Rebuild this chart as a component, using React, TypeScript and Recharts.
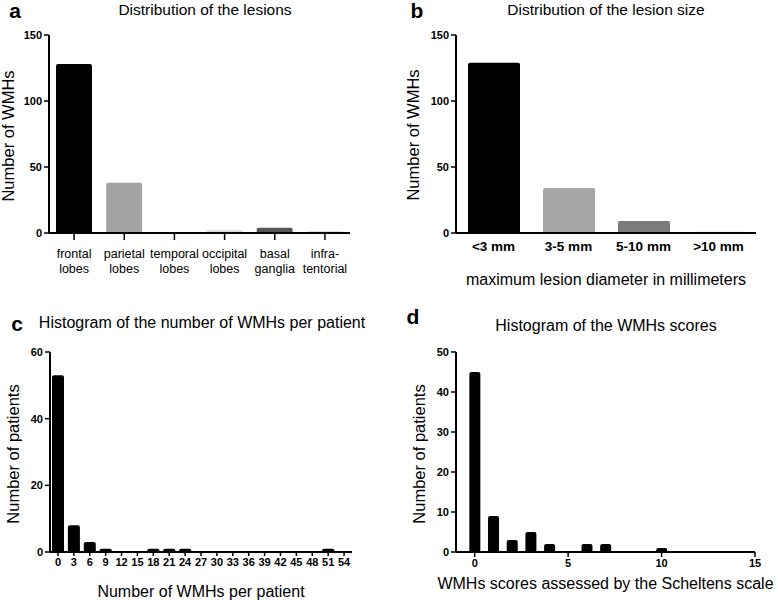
import React from "react";
import { Bar, BarChart, Cell, Label, XAxis, YAxis } from "recharts";

// panel a: lesion location
const locations = ["frontal lobes", "parietal lobes", "temporal lobes", "occipital lobes", "basal ganglia", "infra-tentorial"];
const locationCounts = [128, 38, 0, 2, 4, 1];
const locationColors = ["#000000", "#a3a3a3", "#bdbdbd", "#d9d9d9", "#555555", "#8a8a8a"];

// panel b: lesion size
const sizeClasses = ["<3 mm", "3-5 mm", "5-10 mm", ">10 mm"];
const sizeCounts = [129, 34, 9, 1];
const sizeColors = ["#000000", "#a6a6a6", "#7a7a7a", "#d6d6d6"];

// panel c: WMHs per patient (bins of 3)
const wmhBins = ["0", "3", "6", "9", "12", "15", "18", "21", "24", "27", "30", "33", "36", "39", "42", "45", "48", "51", "54"];
const wmhPatients = [53, 8, 3, 1, 0, 0, 1, 1, 1, 0, 0, 0, 0, 0, 0, 0, 0, 1, 0];

// panel d: Scheltens scores
const scores = [0, 1, 2, 3, 4, 5, 6, 7, 8, 9, 10];
const scorePatients = [45, 9, 3, 5, 2, 0, 2, 2, 0, 0, 1];

const FONT = '"Liberation Sans", Arial, Helvetica, sans-serif';

const locationData = locations.map((name, i) => ({ name, value: locationCounts[i] }));
const sizeData = sizeClasses.map((name, i) => ({ name, value: sizeCounts[i] }));
const wmhData = wmhBins.map((name, i) => ({ name, value: wmhPatients[i] }));
const scoreData = scores.map((score, i) => ({ score, value: scorePatients[i] }));

const axisLine = { stroke: "#000", strokeWidth: 2 };
const tickLine = { stroke: "#000", strokeWidth: 1.5 };
const yTick = { fill: "#000", fontSize: 11, fontWeight: 700, fontFamily: FONT };

const xTitle = (text: string, dy: number) => (props: any) => {
  const vb = props.viewBox;
  return (
    <text
      x={vb.x + vb.width / 2}
      y={vb.y + dy}
      textAnchor="middle"
      dominantBaseline="central"
      fontSize={16}
      fontFamily={FONT}
      fill="#000"
    >
      {text}
    </text>
  );
};

function splitLabel(name: string) {
  if (name.includes(" ")) return name.split(" ");
  const k = name.indexOf("-");
  return [name.slice(0, k + 1), name.slice(k + 1)];
}

function LocationTick(props: any) {
  const { x, y, payload } = props;
  const lines = splitLabel(payload.value);
  return (
    <text x={x} y={y} textAnchor="middle" fontSize={12.5} fontFamily={FONT} fill="#000">
      {lines.map((l, i) => (
        <tspan key={i} x={x} dy={i === 0 ? 16 : 15}>
          {l}
        </tspan>
      ))}
    </text>
  );
}

function Text({ left, top, size, bold, rotate, children }: any) {
  return (
    <div
      style={{
        position: "absolute",
        left,
        top,
        transform: `translate(-50%, -50%)${rotate ? " rotate(-90deg)" : ""}`,
        whiteSpace: "nowrap",
        fontSize: size,
        fontWeight: bold ? 700 : 400,
        fontFamily: FONT,
        color: "#000",
        lineHeight: 1,
      }}
    >
      {children}
    </div>
  );
}

export default function App() {
  return (
    <div style={{ position: "absolute", left: 0, top: 0, width: 778, height: 600, background: "#fff", overflow: "hidden" }}>
      <div style={{ position: "absolute", left: 0, top: 0 }}>
        <BarChart width={389} height={300} data={locationData} margin={{ top: 35, right: 39, bottom: 0, left: 0 }}>
          <YAxis
            width={49}
            domain={[0, 150]}
            ticks={[0, 50, 100, 150]}
            axisLine={axisLine}
            tickLine={tickLine}
            tickSize={5}
            tick={yTick}
          />
          <XAxis
            dataKey="name"
            height={67}
            axisLine={axisLine}
            tickLine={tickLine}
            tickSize={7}
            interval={0}
            tick={<LocationTick />}
          />
          <Bar dataKey="value" barSize={36} radius={[2, 2, 0, 0]} isAnimationActive={false}>
            {locationData.map((d, i) => (
              <Cell key={d.name} fill={locationColors[i]} />
            ))}
          </Bar>
        </BarChart>
      </div>

      <div style={{ position: "absolute", left: 389, top: 0 }}>
        <BarChart width={389} height={300} data={sizeData} margin={{ top: 35, right: 22, bottom: 0, left: 0 }}>
          <YAxis
            width={67}
            domain={[0, 150]}
            ticks={[0, 50, 100, 150]}
            axisLine={axisLine}
            tickLine={tickLine}
            tickSize={5}
            tick={yTick}
          />
          <XAxis
            dataKey="name"
            height={67}
            axisLine={axisLine}
            tickLine={false}
            tickSize={6}
            interval={0}
            tick={{ fill: "#000", fontSize: 13.5, fontWeight: 700, fontFamily: FONT }}
          >
            <Label content={xTitle("maximum lesion diameter in millimeters", 46)} />
          </XAxis>
          <Bar dataKey="value" barSize={52} radius={[2, 2, 0, 0]} isAnimationActive={false}>
            {sizeData.map((d, i) => (
              <Cell key={d.name} fill={sizeColors[i]} />
            ))}
          </Bar>
        </BarChart>
      </div>

      <div style={{ position: "absolute", left: 0, top: 300 }}>
        <BarChart width={389} height={300} data={wmhData} margin={{ top: 52, right: 37, bottom: 0, left: 0 }}>
          <YAxis
            width={50}
            domain={[0, 60]}
            ticks={[0, 20, 40, 60]}
            axisLine={axisLine}
            tickLine={tickLine}
            tickSize={5}
            tick={yTick}
          />
          <XAxis
            dataKey="name"
            height={48}
            axisLine={axisLine}
            tickLine={tickLine}
            tickSize={4}
            interval={0}
            tick={{ fill: "#000", fontSize: 11, fontWeight: 700, fontFamily: FONT }}
          >
            <Label content={xTitle("Number of WMHs per patient", 39)} />
          </XAxis>
          <Bar dataKey="value" fill="#000" barSize={12} radius={[2, 2, 0, 0]} isAnimationActive={false} />
        </BarChart>
      </div>

      <div style={{ position: "absolute", left: 389, top: 300 }}>
        <BarChart width={389} height={300} data={scoreData} margin={{ top: 52, right: 23, bottom: 0, left: 0 }}>
          <YAxis
            width={67}
            domain={[0, 50]}
            ticks={[0, 10, 20, 30, 40, 50]}
            axisLine={axisLine}
            tickLine={tickLine}
            tickSize={5}
            tick={yTick}
          />
          <XAxis
            dataKey="score"
            type="number"
            domain={[-1, 15]}
            ticks={[0, 5, 10, 15]}
            height={48}
            axisLine={axisLine}
            tickLine={tickLine}
            tickSize={5}
            tick={{ fill: "#000", fontSize: 11, fontWeight: 700, fontFamily: FONT }}
          >
            <Label content={xTitle("WMHs scores assessed by the Scheltens scale", 31)} />
          </XAxis>
          <Bar dataKey="value" fill="#000" barSize={11} radius={[2, 2, 0, 0]} isAnimationActive={false} />
        </BarChart>
      </div>

      <Text left={15} top={10} size={21} bold>a</Text>
      <Text left={205} top={10} size={15.5}>Distribution of the lesions</Text>
      <Text left={8} top={136} size={16.5} rotate>Number of WMHs</Text>
      <Text left={417} top={10} size={21} bold>b</Text>
      <Text left={606} top={10} size={15.5}>Distribution of the lesion size</Text>
      <Text left={413} top={135} size={16.5} rotate>Number of WMHs</Text>
      <Text left={17} top={323} size={21} bold>c</Text>
      <Text left={202} top={323} size={16}>Histogram of the number of WMHs per patient</Text>
      <Text left={13} top={454} size={16.5} rotate>Number of patients</Text>
      <Text left={413} top={316} size={21} bold>d</Text>
      <Text left={606} top={326} size={16}>Histogram of the WMHs scores</Text>
      <Text left={419} top={454} size={16.5} rotate>Number of patients</Text>
    </div>
  );
}
